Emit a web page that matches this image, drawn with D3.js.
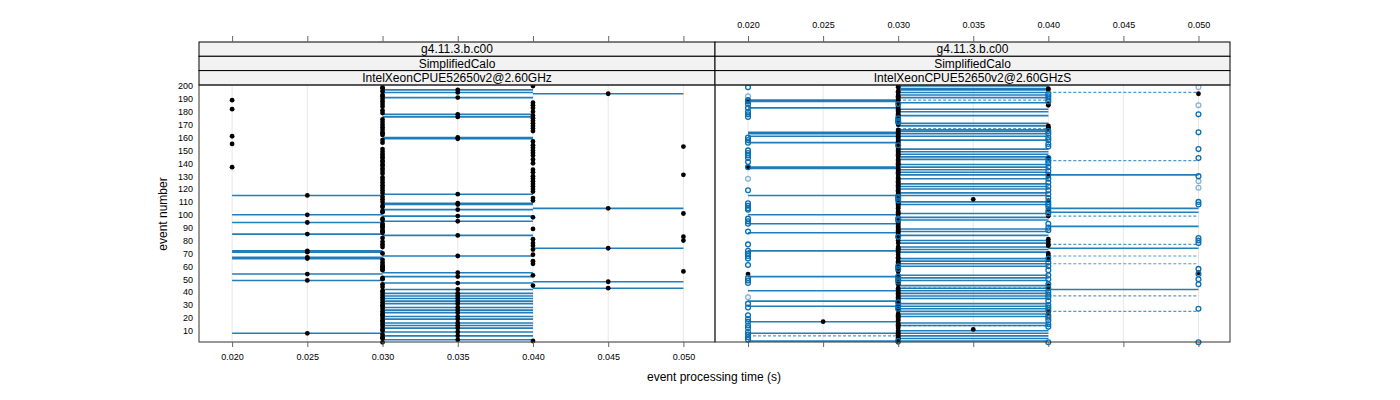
<!DOCTYPE html>
<html><head><meta charset="utf-8">
<script src="https://cdn.jsdelivr.net/npm/d3@7"></script>
<style>
html,body{margin:0;padding:0;background:#fff;}
svg{display:block;font-family:"Liberation Sans",Arial,sans-serif;}
</style></head>
<body><svg id="c" width="1400" height="400"></svg>
<script>
// ---------- data ----------
const xTicks = [0.020,0.025,0.030,0.035,0.040,0.045,0.050];
const yTicks = [10,20,30,40,50,60,70,80,90,100,110,120,130,140,150,160,170,180,190,200];
const stripLabels = ["g4.11.3.b.c00","SimplifiedCalo"];
const panelNames = ["IntelXeonCPUE52650v2@2.60GHz","IntelXeonCPUE52650v2@2.60GHzS"];

// Left panel: mean event time (black points) by event number
const L020 = [137,155,161,182,189];
const L025 = [8,49,54,66,67,71,72,85,94,100,115];
const L030 = [1,4,5,7,10,11,13,15,17,18,20,22,23,25,27,29,30,32,34,36,38,40,41,44,46,50,51,57,58,59,60,61,63,65,70,75,77,79,82,86,87,88,90,91,92,93,96,97,102,103,106,107,110,112,114,117,119,121,123,125,127,129,132,134,136,138,139,141,142,144,145,147,149,151,156,158,162,163,164,166,168,170,172,174,179,181,184,186,188,190,192,193,196,198,199];
const L035 = [3,6,9,12,14,16,19,21,24,26,28,31,33,35,37,39,42,47,52,55,68,84,95,99,104,108,109,116,159,160,176,178,191,195,197];
const L040 = [2,45,53,62,64,69,73,76,78,81,89,98,111,113,118,120,122,124,126,128,130,133,135,140,143,146,148,150,152,154,157,165,167,169,171,173,175,177,180,183,185,187,200];
const L045 = [43,48,74,105,194];
const L050 = [56,80,83,101,131,153];
// Left panel: min-max range bars (events whose two runs differ)
const LBar020_030 = [8,49,54,66,67,71,72,85,94,100,115];
const LBar030_040 = [3,6,9,12,14,16,19,21,24,26,28,31,33,35,37,39,42,47,52,55,68,84,95,99,104,108,109,116,159,160,176,178,191,195,197];
const LBar040_050 = [43,48,74,105,194];

// Right panel: black points
const RB020 = [54,137,188];
const RB025 = [17];
const RB030 = [1,2,3,4,5,6,7,8,9,10,12,13,14,15,16,18,19,20,21,22,23,26,27,28,29,30,31,32,33,34,35,36,37,38,39,40,41,42,43,46,47,48,49,50,51,52,53,56,57,58,59,60,61,62,63,64,66,67,69,71,72,73,74,75,78,80,82,83,84,85,86,87,88,89,90,91,92,93,94,95,96,97,98,100,101,102,103,105,106,107,108,109,110,113,114,115,116,117,118,119,120,121,122,123,124,125,126,127,128,129,131,132,133,134,135,136,138,139,140,141,142,143,145,146,147,148,149,150,151,152,153,154,155,156,157,158,159,160,161,162,163,164,165,166,170,171,172,173,174,175,176,177,178,179,180,181,182,183,184,187,189,190,191,192,193,195,196,199,200];
const RB035 = [11,112];
const RB040 = [24,25,44,45,65,68,70,76,77,79,81,99,104,111,130,144,167,168,169,185,186,197,198];
const RB050 = [55,194];
// Right panel: individual runs (open circles)
const RC020 = [3,5,7,9,12,14,17,19,22,28,31,47,49,51,61,66,68,70,72,77,87,93,95,97,104,105,107,109,119,137,141,144,146,148,150,156,158,160,176,178,180,183,186,188,189,199];
const RC030 = [2,27,29,32,48,50,52,58,60,83,96,97,111,113,114,154,172,173,175,186];
const RC040 = [1,13,15,18,20,22,26,28,30,33,36,38,40,43,46,50,53,57,60,63,66,88,90,93,101,103,106,108,110,113,116,119,122,125,128,131,134,137,140,142,144,153,155,158,160,163,165,188,190,192,194];
const RC050 = [1,27,46,50,54,58,78,80,82,108,110,130,144,151,164,178];
const RCL020 = [36,128,192];
const RCL050 = [121,126,185,199];
// Right panel: solid range bars
const RS020_030 = [2,8,17,29,33,41,52,72,86,93,100,115,136,137,156,161,163,164,183,188,189];
const RS030_040 = [200,198,197,195,193,191,187,182,180,177,171,169,166,165,163,161,158,151,149,147,145,143,139,137,135,133,131,128,124,122,120,117,115,110,108,101,98,96,89,87,84,80,78,75,73,71,66,64,62,60,53,51,49,45,43,41,39,37,35,31,29,27,25,23,21,16,14,10,8,6,4,2];
const RS040_050 = [42,74,91,102,105,131];
// Right panel: dashed range bars
const RD020_030 = [6];
const RD030_040 = [14,43,167,189];
const RD040_050 = [25,37,62,68,77,99,142,195];

// ---------- layout ----------
const svg = d3.select("#c");
const pTop = 85, pBottom = 342;
const panels = [{x0:199, w:516}, {x0:715, w:515}];
const y = d3.scaleLinear().domain([10,200]).range([330.7,86]);
const blue = "#0a6fb0";

panels.forEach((p,i)=>{
  p.x = d3.scaleLinear().domain([0.0178,0.0521]).range([p.x0, p.x0+p.w]);
});

// grid
panels.forEach(p=>{
  svg.append("g").selectAll("line").data(xTicks).join("line")
    .attr("x1",d=>p.x(d)).attr("x2",d=>p.x(d)).attr("y1",pTop).attr("y2",pBottom)
    .attr("stroke","#e8e8e8").attr("stroke-width",1);
});

function bars(p, events, lo, hi, opts={}){
  svg.append("g").selectAll("line").data(events).join("line")
    .attr("x1",p.x(lo)).attr("x2",p.x(hi))
    .attr("y1",d=>y(d)).attr("y2",d=>y(d))
    .attr("stroke",opts.color||blue).attr("stroke-width",opts.w||1.6)
    .attr("stroke-opacity",opts.op||0.9)
    .attr("stroke-dasharray",opts.dash||null);
}
function dots(p, events, v){
  svg.append("g").selectAll("circle").data(events).join("circle")
    .attr("cx",p.x(v)).attr("cy",d=>y(d)).attr("r",2.4).attr("fill","#000");
}
function rings(p, events, v, op){
  svg.append("g").selectAll("circle").data(events).join("circle")
    .attr("cx",p.x(v)).attr("cy",d=>y(d)).attr("r",2.4)
    .attr("fill","none").attr("stroke",blue).attr("stroke-width",1.3).attr("stroke-opacity",op);
}

// left panel
const PL = panels[0];
bars(PL, LBar020_030, 0.020, 0.030);
bars(PL, LBar030_040, 0.030, 0.040);
bars(PL, LBar040_050, 0.040, 0.050);
[[L020,0.020],[L025,0.025],[L030,0.030],[L035,0.035],[L040,0.040],[L045,0.045],[L050,0.050]]
  .forEach(([ev,v])=>dots(PL, ev, v));

// right panel
const PR = panels[1];
const dashOpts = {dash:"3,2", color:"#3f8fc6", w:1.2, op:0.9};
bars(PR, RD020_030, 0.020, 0.030, dashOpts);
bars(PR, RD030_040, 0.030, 0.040, dashOpts);
bars(PR, RD040_050, 0.040, 0.050, dashOpts);
bars(PR, RS020_030, 0.020, 0.030);
bars(PR, RS030_040, 0.030, 0.040);
bars(PR, RS040_050, 0.040, 0.050);
[[RB020,0.020],[RB025,0.025],[RB030,0.030],[RB035,0.035],[RB040,0.040],[RB050,0.050]]
  .forEach(([ev,v])=>dots(PR, ev, v));
[[RC020,0.020],[RC030,0.030],[RC040,0.040],[RC050,0.050]].forEach(([ev,v])=>rings(PR, ev, v, 1));
[[RCL020,0.020],[RCL050,0.050]].forEach(([ev,v])=>rings(PR, ev, v, 0.5));

// panel borders, strips
const stripH = [42,56.3,70.6,85];
panels.forEach((p,i)=>{
  const labels = [stripLabels[0], stripLabels[1], panelNames[i]];
  labels.forEach((t,k)=>{
    svg.append("rect").attr("x",p.x0).attr("y",stripH[k]).attr("width",p.w).attr("height",stripH[k+1]-stripH[k])
      .attr("fill","#f2f2f2").attr("stroke","#000").attr("stroke-width",1);
    svg.append("text").attr("x",p.x0+p.w/2).attr("y",(stripH[k]+stripH[k+1])/2+4.3)
      .attr("text-anchor","middle").attr("font-size",12).attr("fill","#000").text(t);
  });
  svg.append("rect").attr("x",p.x0).attr("y",pTop).attr("width",p.w).attr("height",pBottom-pTop)
    .attr("fill","none").attr("stroke","#333").attr("stroke-width",1);
});

// axes
const tickFmt = d3.format(".3f");
panels.forEach((p,i)=>{
  const gB = svg.append("g").attr("transform",`translate(0,${pBottom})`)
    .call(d3.axisBottom(p.x).tickValues(xTicks).tickSize(5).tickSizeOuter(0).tickPadding(7)
      .tickFormat(i===0?tickFmt:()=>""));
  gB.select(".domain").remove();
  gB.selectAll(".tick line").attr("stroke","#666");
  gB.selectAll("text").attr("font-size",9).attr("font-family","Liberation Sans, Arial, sans-serif").attr("fill","#000");
  const gT = svg.append("g").attr("transform",`translate(0,42)`)
    .call(d3.axisTop(p.x).tickValues(xTicks).tickSize(6).tickSizeOuter(0).tickPadding(8)
      .tickFormat(i===1?tickFmt:()=>""));
  gT.select(".domain").remove();
  gT.selectAll(".tick line").attr("stroke","#666");
  gT.selectAll("text").attr("font-size",9).attr("font-family","Liberation Sans, Arial, sans-serif").attr("fill","#000");
});
const gY = svg.append("g").attr("transform",`translate(${PL.x0},0)`)
  .call(d3.axisLeft(y).tickValues(yTicks).tickSize(0).tickPadding(6).tickFormat(d3.format("d")));
gY.select(".domain").remove();
gY.selectAll("text").attr("font-size",9).attr("font-family","Liberation Sans, Arial, sans-serif").attr("fill","#000");

// titles
svg.append("text").attr("x",714).attr("y",381).attr("text-anchor","middle").attr("font-size",12).text("event processing time (s)");
svg.append("text").attr("transform","translate(167,214) rotate(-90)").attr("text-anchor","middle").attr("font-size",12).text("event number");
</script></body></html>
